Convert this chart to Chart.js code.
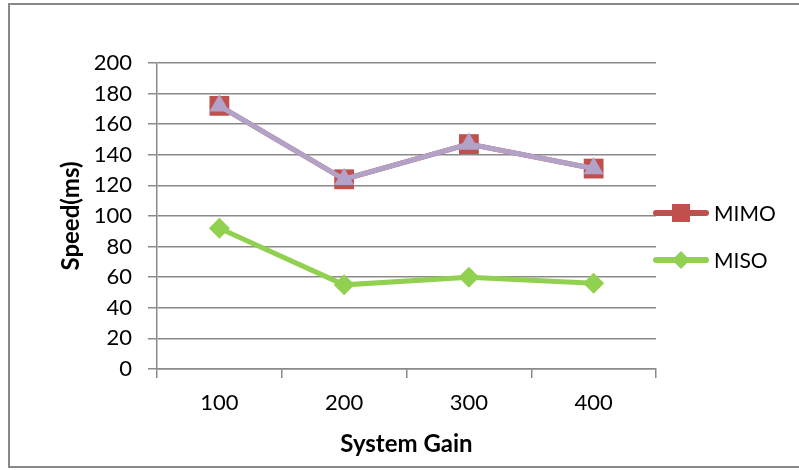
<!DOCTYPE html>
<html>
<head>
<meta charset="utf-8">
<script src="https://cdn.jsdelivr.net/npm/chart.js@4/dist/chart.umd.min.js"></script>
<style>
html,body{margin:0;padding:0;background:#fff;}
canvas{display:block;}
</style>
</head>
<body>
<canvas id="c" width="799" height="470"></canvas>
<script>
const categories = ['100', '200', '300', '400'];
const mimoValues = [172, 124, 147, 131];
const series3Values = [172, 124, 147, 131];
const misoValues = [92, 55, 60, 56];
const yTicks = [0, 20, 40, 60, 80, 100, 120, 140, 160, 180, 200];

const FONT = 'Lato, "Open Sans", sans-serif';
const GRID = '#8a8a8a';

const borderPlugin = {
  id: 'frame',
  beforeDraw(chart) {
    const ctx = chart.ctx;
    ctx.save();
    ctx.fillStyle = '#fff';
    ctx.fillRect(0, 0, chart.width, chart.height);
    ctx.strokeStyle = '#888';
    ctx.lineWidth = 2;
    ctx.beginPath();
    ctx.moveTo(801, 4);
    ctx.lineTo(9, 4);
    ctx.lineTo(9, 467);
    ctx.lineTo(801, 467);
    ctx.stroke();
    ctx.restore();
  }
};

const legendPlugin = {
  id: 'customLegend',
  afterDraw(chart) {
    const ctx = chart.ctx;
    const items = [0, 2];
    const ys = [213, 260];
    items.forEach((di, i) => {
      const ds = chart.data.datasets[di];
      const y = ys[i];
      ctx.save();
      ctx.strokeStyle = ds.borderColor;
      ctx.lineWidth = 6;
      ctx.lineCap = 'round';
      ctx.beginPath();
      ctx.moveTo(656, y);
      ctx.lineTo(706, y);
      ctx.stroke();
      Chart.helpers.drawPoint(ctx, {
        pointStyle: ds.pointStyle,
        radius: ds.pointStyle === 'rect' ? 12.7 : 8.7,
        rotation: 0,
        borderWidth: 0
      }, 681, y);
      ctx.fillStyle = ds.backgroundColor;
      ctx.fill();
      ctx.fillStyle = '#000';
      ctx.font = '21px ' + FONT;
      ctx.textBaseline = 'middle';
      ctx.textAlign = 'left';
      ctx.fillText(ds.label, 714, y + 1);
      ctx.restore();
    });
  }
};

new Chart(document.getElementById('c'), {
  type: 'line',
  data: {
    labels: categories,
    datasets: [
      {
        label: 'MIMO',
        data: mimoValues,
        borderColor: '#C0504D',
        backgroundColor: '#C0504D',
        borderWidth: 5,
        pointStyle: 'rect',
        pointRadius: 14,
        pointBorderWidth: 0,
        pointBackgroundColor: '#C0504D',
        order: 2,
        tension: 0
      },
      {
        label: 'Series3',
        data: series3Values,
        borderColor: '#B3A2C7',
        backgroundColor: '#B3A2C7',
        borderWidth: 5,
        pointStyle: 'triangle',
        pointRadius: 11.5,
        pointBorderWidth: 0,
        pointBackgroundColor: '#B3A2C7',
        order: 1,
        tension: 0
      },
      {
        label: 'MISO',
        data: misoValues,
        borderColor: '#92D050',
        backgroundColor: '#92D050',
        borderWidth: 5,
        pointStyle: 'rectRot',
        pointRadius: 10.5,
        pointBorderWidth: 0,
        pointBackgroundColor: '#92D050',
        order: 3,
        tension: 0
      }
    ]
  },
  options: {
    responsive: false,
    animation: false,
    devicePixelRatio: 1,
    clip: false,
    layout: { padding: { left: 0, top: 63, right: 143, bottom: 0 } },
    plugins: {
      legend: { display: false },
      tooltip: { enabled: false }
    },
    scales: {
      x: {
        type: 'category',
        offset: true,
        grid: {
          offset: true,
          drawOnChartArea: false,
          drawTicks: true,
          tickLength: 9,
          color: GRID,
          lineWidth: 1.5
        },
        border: { display: true, color: GRID, width: 1.5 },
        ticks: {
          color: '#000',
          font: { family: FONT, size: 22 },
          padding: 12,
          maxRotation: 0
        },
        title: {
          display: true,
          text: 'System Gain',
          color: '#000',
          font: { family: FONT, size: 24, weight: 'bold' },
          padding: { top: 11, bottom: 11 }
        },
        afterFit(scale) { scale.height = 101; }
      },
      y: {
        min: 0,
        max: 200,
        afterBuildTicks(scale) { scale.ticks = yTicks.map(v => ({ value: v })); },
        grid: {
          drawTicks: true,
          tickLength: 9,
          color: GRID,
          lineWidth: 1.5
        },
        border: { display: true, color: GRID, width: 1.5 },
        ticks: {
          color: '#000',
          font: { family: FONT, size: 22 },
          padding: 16
        },
        title: {
          display: true,
          text: 'Speed(ms)',
          color: '#000',
          font: { family: FONT, size: 24, weight: 'bold' },
          padding: { top: 57, bottom: 57 }
        },
        afterFit(scale) { scale.width = 157; }
      }
    }
  },
  plugins: [borderPlugin, legendPlugin]
});
</script>
</body>
</html>
